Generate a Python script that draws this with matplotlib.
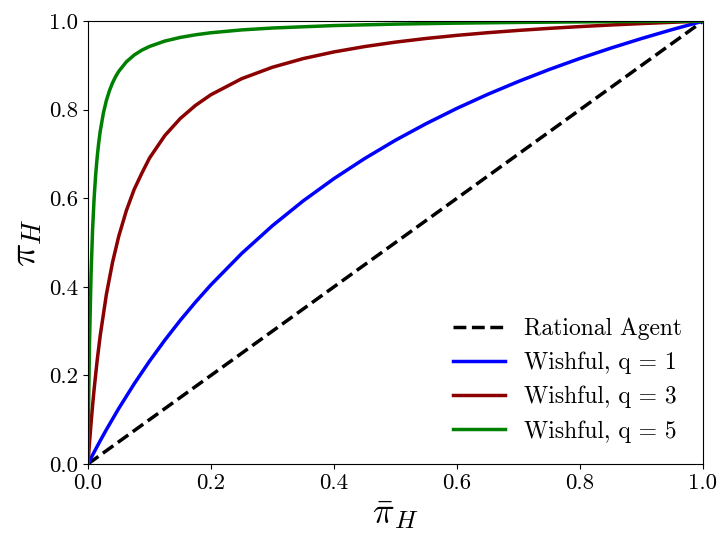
import matplotlib
matplotlib.use("Agg")
import matplotlib.pyplot as plt

plt.rcParams['font.family'] = ['cmr10', 'DejaVu Serif']
plt.rcParams['mathtext.fontset'] = 'cm'
plt.rcParams['axes.formatter.use_mathtext'] = True

# values
x_rational = [0.0, 1.0]
y_rational = [0.0, 1.0]

x_q1 = [0, 0.005, 0.01, 0.02, 0.03, 0.05, 0.075, 0.1, 0.125, 0.15, 0.175, 0.2, 0.25, 0.3,
        0.35, 0.4, 0.45, 0.5, 0.55, 0.6, 0.65, 0.7, 0.75, 0.8, 0.85, 0.9, 0.95, 1.0]
y_q1 = [0, 0.0135, 0.0267, 0.0526, 0.0776, 0.1252, 0.1806, 0.2320, 0.2797, 0.3242, 0.3657,
        0.4046, 0.4754, 0.5381, 0.5941, 0.6444, 0.6898, 0.7311, 0.7686, 0.8031, 0.8347,
        0.8638, 0.8908, 0.9158, 0.9390, 0.9607, 0.9810, 1.0]

x_q3 = [0, 0.0025, 0.005, 0.0075, 0.01, 0.015, 0.02, 0.03, 0.04, 0.05, 0.0625, 0.075,
        0.0875, 0.1, 0.125, 0.15, 0.175, 0.2, 0.25, 0.3, 0.35, 0.4, 0.45, 0.5, 0.55, 0.6,
        0.65, 0.7, 0.75, 0.8, 0.85, 0.9, 0.95, 1.0]
y_q3 = [0, 0.0479, 0.0917, 0.1318, 0.1687, 0.2342, 0.2907, 0.3832, 0.4556, 0.5139, 0.5724,
        0.6196, 0.6563, 0.6906, 0.7416, 0.7800, 0.8099, 0.8339, 0.8701, 0.8959, 0.9154,
        0.9305, 0.9426, 0.9526, 0.9609, 0.9679, 0.9739, 0.9791, 0.9837, 0.9877, 0.9913,
        0.9945, 0.9974, 1.0]

x_q5 = [0, 0.001, 0.0025, 0.005, 0.0075, 0.01, 0.0125, 0.015, 0.0175, 0.02, 0.025, 0.03,
        0.035, 0.04, 0.045, 0.05, 0.0625, 0.075, 0.0875, 0.1, 0.125, 0.15, 0.175, 0.2,
        0.25, 0.3, 0.4, 0.5, 0.6, 0.7, 0.8, 0.9, 1.0]
y_q5 = [0, 0.1294, 0.2711, 0.4272, 0.5287, 0.5999, 0.6526, 0.6933, 0.7255, 0.7518, 0.7919,
        0.8211, 0.8433, 0.8608, 0.8749, 0.8865, 0.9082, 0.9233, 0.9344, 0.9428, 0.9550,
        0.9632, 0.9692, 0.9738, 0.9802, 0.9845, 0.9900, 0.9933, 0.9955, 0.9971, 0.9983,
        0.9993, 1.0]

fig = plt.figure(figsize=(7.21, 5.42), dpi=100)
ax = fig.add_axes([0.122, 0.144, 0.853, 0.817])

ax.plot(x_rational, y_rational, 'k--', lw=2.5, label='Rational Agent')
ax.plot(x_q1, y_q1, color='#0000ff', lw=2.5, label='Wishful, q = 1')
ax.plot(x_q3, y_q3, color='#8b0000', lw=2.5, label='Wishful, q = 3')
ax.plot(x_q5, y_q5, color='#008000', lw=2.5, label='Wishful, q = 5')

ax.set_xlim(0, 1)
ax.set_ylim(0, 1)
ax.set_xticks([0, 0.2, 0.4, 0.6, 0.8, 1.0])
ax.set_yticks([0, 0.2, 0.4, 0.6, 0.8, 1.0])
ax.set_xticklabels(['0.0', '0.2', '0.4', '0.6', '0.8', '1.0'])
ax.set_yticklabels(['0.0', '0.2', '0.4', '0.6', '0.8', '1.0'])
ax.tick_params(labelsize=16.5)
ax.set_xlabel(r'$\bar{\pi}_H$', fontsize=26)
ax.set_ylabel(r'$\pi_H$', fontsize=28)
ax.legend(loc='lower right', frameon=False, fontsize=17, handlelength=2.2)

fig.savefig('out.png', dpi=100)
